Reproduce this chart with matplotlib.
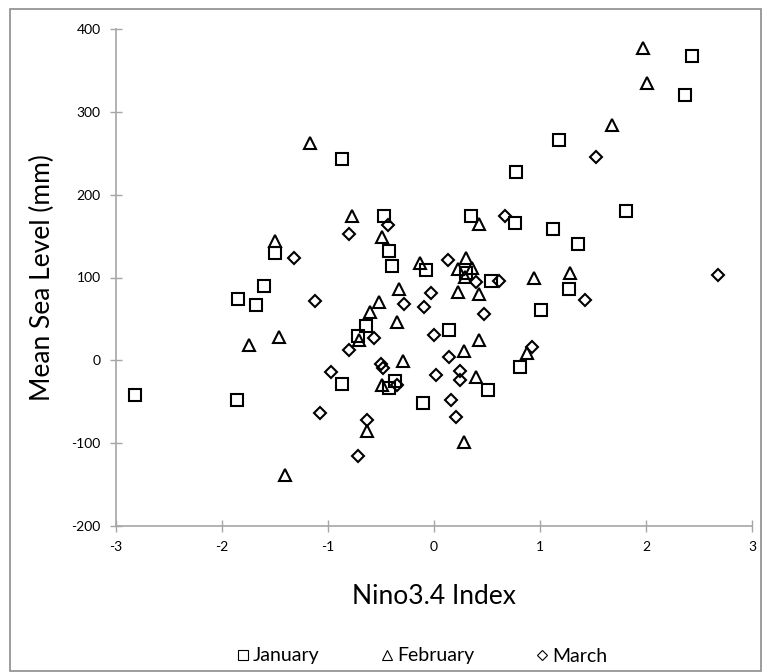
import matplotlib
matplotlib.use("Agg")
import matplotlib.pyplot as plt
from matplotlib.patches import Rectangle
from matplotlib.lines import Line2D

plt.rcParams['font.family'] = ['Lato', 'DejaVu Sans']
plt.rcParams['axes.unicode_minus'] = False

# January (squares)
jan_x = [-2.82, -1.86, -1.85, -1.68, -1.60, -1.50, -0.87, -0.47, -0.42, -0.40,
         -0.08, 2.43, 2.37, 1.18, 0.77, 1.81, 0.35, 0.76, 1.12, 1.36,
         1.27, 1.01, 0.14, 0.81, 0.51, -0.10, 0.54, -0.64, -0.72, -0.87,
         -0.42, -0.37, 0.30]
jan_y = [-42, -48, 74, 67, 90, 130, 243, 174, 132, 114,
         109, 368, 320, 266, 227, 180, 174, 166, 158, 141,
         86, 61, 37, -8, -36, -51, 96, 41, 29, -29,
         -34, -25, 106]

# February (triangles)
feb_x = [-1.17, -0.77, -0.49, -1.50, -0.13, 1.97, 2.01, 1.68, 0.42, 0.30,
         0.94, 1.28, 0.42, 0.28, 0.88, 0.40, 0.28, 0.23, 0.36, 0.29,
         0.23, 0.42, -0.33, -0.52, -0.60, -0.35, -0.71, -0.29, -1.75, -1.46,
         -1.41, -0.63, -0.49]
feb_y = [262, 174, 149, 144, 117, 377, 335, 284, 165, 124,
         100, 105, 24, 11, 9, -20, -99, 110, 111, 101,
         83, 80, 86, 70, 58, 46, 24, -1, 18, 28,
         -138, -85, -30]

# March (diamonds)
mar_x = [-0.43, -0.80, -1.32, 1.53, 0.67, 0.13, 2.68, 1.42, 0.475, 0.0,
         0.92, 0.14, 0.02, 0.245, 0.245, 0.16, 0.21, 0.61, 0.40, -0.03,
         -0.09, -1.12, -0.28, -0.57, -0.80, -0.50, -0.48, -0.97, -1.08, -0.63,
         -0.72, -0.35]
mar_y = [163, 152, 124, 245, 174, 121, 103, 73, 56, 31,
         16, 4, -18, -13, -24, -48, -69, 96, 95, 81,
         64, 72, 68, 27, 13, -5, -9, -14, -63, -72,
         -116, -30]

x_ticks = [-3, -2, -1, 0, 1, 2, 3]
y_ticks = [-200, -100, 0, 100, 200, 300, 400]

fig = plt.figure(figsize=(7.62, 6.72), dpi=100)
ax = fig.add_axes([116 / 762, 1 - 526 / 672, 636 / 762, 497 / 672])

style = dict(linestyle='none', markerfacecolor='none', markeredgecolor='black',
             markeredgewidth=1.5)
ax.plot(jan_x, jan_y, marker='s', markersize=8.5, label='January', **style)
ax.plot(feb_x, feb_y, marker='^', markersize=9, label='February', **style)
ax.plot(mar_x, mar_y, marker='D', markersize=6.5, label='March', **style)

ax.set_xlim(-3, 3)
ax.set_ylim(-200, 400)
ax.set_xticks(x_ticks)
ax.set_yticks(y_ticks)
ax.tick_params(direction='inout', length=8, width=1, color='#a6a6a6',
               labelsize=10, pad=7)
for s in ['top', 'right']:
    ax.spines[s].set_visible(False)
for s in ['left', 'bottom']:
    ax.spines[s].set_color('#a6a6a6')
    ax.spines[s].set_linewidth(1.2)

ax.set_xlabel('Nino3.4 Index', fontsize=19, labelpad=22)
ax.set_ylabel('Mean Sea Level (mm)', fontsize=19, labelpad=12)

handles = [
    Line2D([], [], marker='s', markersize=7, **style),
    Line2D([], [], marker='^', markersize=7.5, **style),
    Line2D([], [], marker='D', markersize=5.5, **style),
]
for h in handles:
    h.set_markeredgewidth(0.8)
fig.legend(handles, ['January', 'February', 'March'], loc='center',
           bbox_to_anchor=(422 / 762, 1 - 656 / 672), ncol=3, frameon=False,
           fontsize=14, handlelength=0.6, handletextpad=0.2, columnspacing=3.2)

# chart area border
fig.patches.append(Rectangle((10 / 762, 1 / 672), 751 / 762, 662 / 672,
                             transform=fig.transFigure, fill=False,
                             edgecolor='#8c8c8c', linewidth=1.2))

fig.savefig('out.png', dpi=100)
